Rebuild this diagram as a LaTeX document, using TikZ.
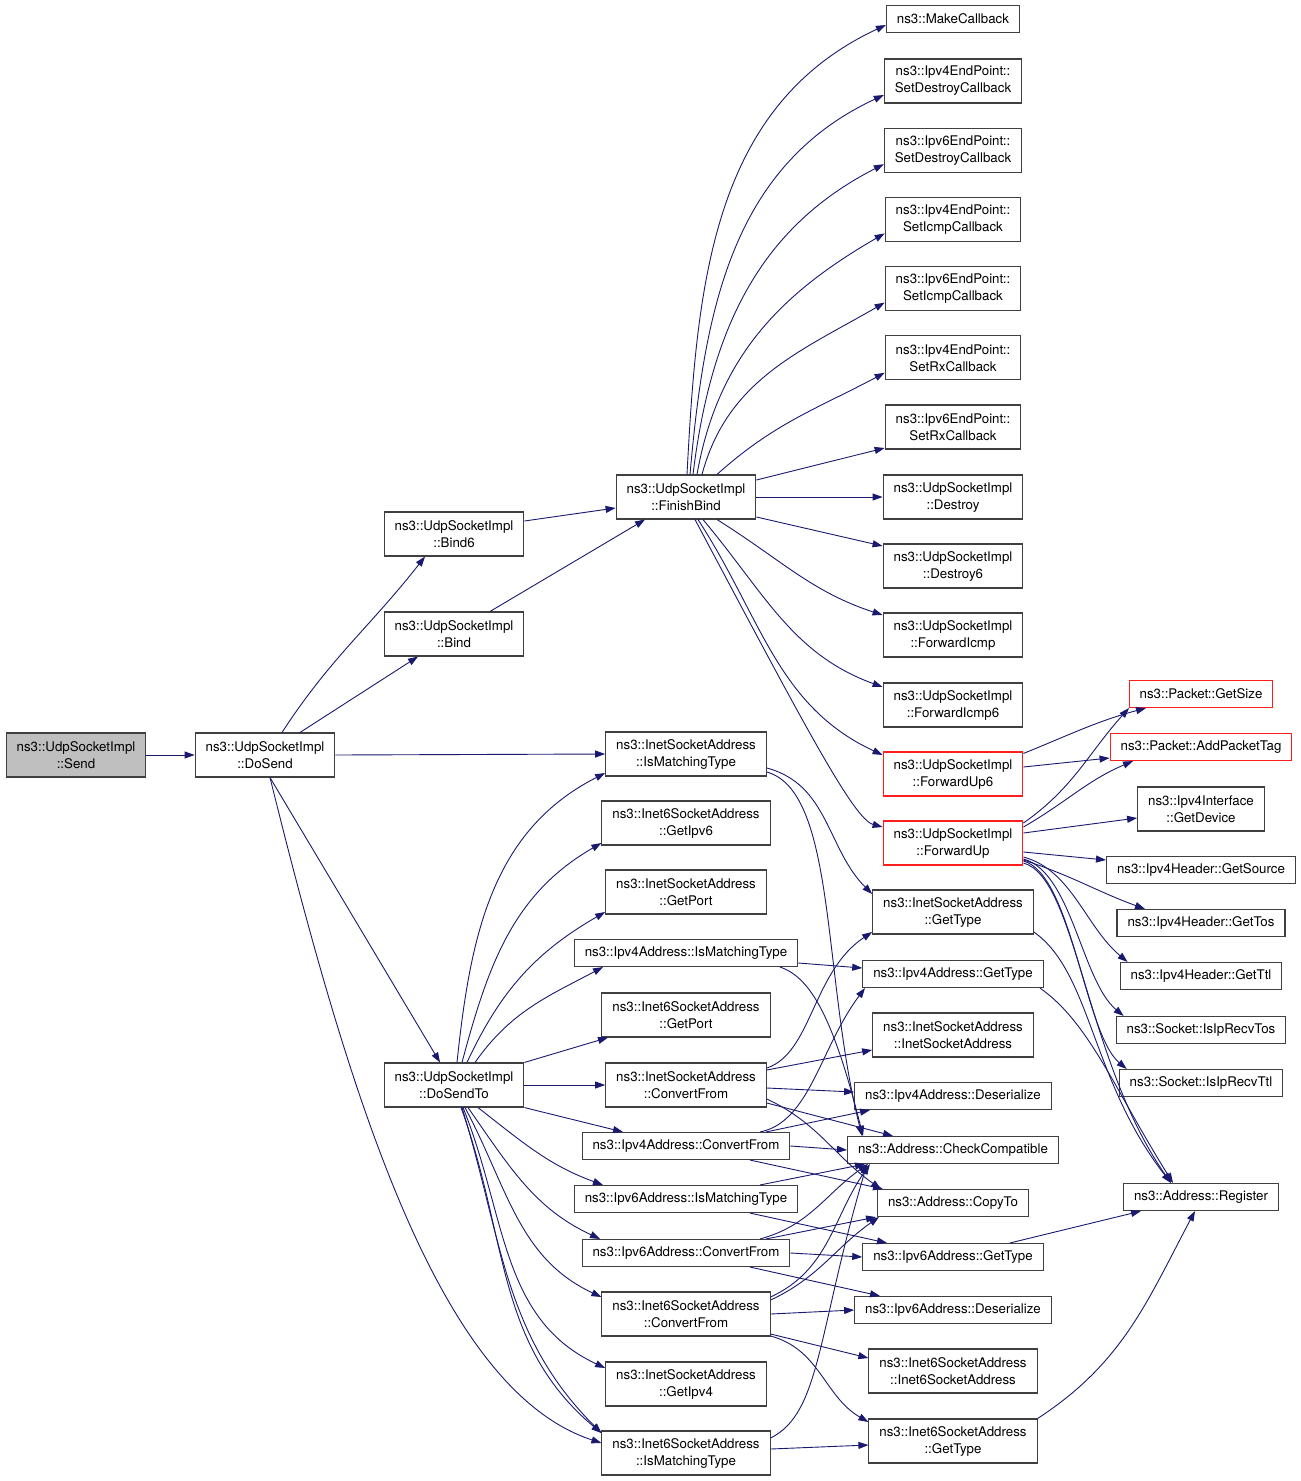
\documentclass[tikz,border=0pt]{standalone}
\usepackage{fontspec}
\setmainfont{TeX Gyre Heros}
\usetikzlibrary{arrows.meta}
\definecolor{edgeblue}{RGB}{25,25,112}
\definecolor{boxgray}{RGB}{64,64,64}
\definecolor{boxred}{RGB}{255,30,30}
\definecolor{rootgray}{RGB}{191,191,191}
\begin{document}
\begin{tikzpicture}[x=1pt,y=1pt,
    fn/.style={draw=boxgray, line width=1.1pt, fill=white, align=center,
        inner xsep=10.5pt, inner ysep=0pt, minimum height=44pt,
        font={\fontsize{13.3}{17}\selectfont}},
    fnline/.style={fn, minimum height=27pt},
    fnroot/.style={fn, fill=rootgray},
    fnred/.style={fn, draw=boxred},
    fnredline/.style={fnline, draw=boxred},
    call/.style={draw=edgeblue, line width=0.9pt, -{Triangle[length=10pt,width=7pt]}}]
    \useasboundingbox (0,0) rectangle (1301,-1481);

    % callers
    \node[fnroot] (send) at (76,-755) {ns3::UdpSocketImpl\\::Send};
    \node[fn] (dosend) at (265,-755) {ns3::UdpSocketImpl\\::DoSend};
    \node[fn] (bind6) at (454,-534) {ns3::UdpSocketImpl\\::Bind6};
    \node[fn] (bind) at (454,-634) {ns3::UdpSocketImpl\\::Bind};
    \node[fn] (finishbind) at (686,-497) {ns3::UdpSocketImpl\\::FinishBind};
    \node[fn] (dosendto) at (454,-1085) {ns3::UdpSocketImpl\\::DoSendTo};

    % FinishBind callees
    \node[fnline] (makecb) at (953,-19) {ns3::MakeCallback};
    \foreach \v/\cb [count=\i] in {4/Destroy,6/Destroy,4/Icmp,6/Icmp,4/Rx,6/Rx}{
        \node[fn] (ep\i) at (953,{-81-69.2*(\i-1)}) {ns3::Ipv\v EndPoint::\\Set\cb Callback};
    }
    \node[fn] (destroy) at (953,-497) {ns3::UdpSocketImpl\\::Destroy};
    \node[fn] (destroy6) at (953,-566) {ns3::UdpSocketImpl\\::Destroy6};
    \node[fn] (fwdicmp) at (953,-635) {ns3::UdpSocketImpl\\::ForwardIcmp};
    \node[fn] (fwdicmp6) at (953,-705) {ns3::UdpSocketImpl\\::ForwardIcmp6};
    \node[fnred] (fwdup6) at (953,-774) {ns3::UdpSocketImpl\\::ForwardUp6};
    \node[fnred] (fwdup) at (953,-843) {ns3::UdpSocketImpl\\::ForwardUp};

    % ForwardUp callees
    \node[fnredline] (getsize) at (1201,-694) {ns3::Packet::GetSize};
    \node[fnredline] (addtag) at (1201,-747) {ns3::Packet::AddPacketTag};
    \node[fn] (getdevice) at (1201,-809) {ns3::Ipv4Interface\\::GetDevice};
    \node[fnline] (getsource) at (1201,-870) {ns3::Ipv4Header::GetSource};
    \node[fnline] (gettos) at (1201,-923) {ns3::Ipv4Header::GetTos};
    \node[fnline] (getttl) at (1201,-976) {ns3::Ipv4Header::GetTtl};
    \node[fnline] (recvtos) at (1201,-1030) {ns3::Socket::IsIpRecvTos};
    \node[fnline] (recvttl) at (1201,-1083) {ns3::Socket::IsIpRecvTtl};
    \node[fnline] (register) at (1201,-1197) {ns3::Address::Register};

    % DoSendTo callees
    \node[fn] (inetmatch) at (686,-754) {ns3::InetSocketAddress\\::IsMatchingType};
    \node[fn] (inet6getipv6) at (686,-823) {ns3::Inet6SocketAddress\\::GetIpv6};
    \node[fn] (inetgetport) at (686,-892) {ns3::InetSocketAddress\\::GetPort};
    \node[fnline] (ipv4match) at (686,-953) {ns3::Ipv4Address::IsMatchingType};
    \node[fn] (inet6getport) at (686,-1015) {ns3::Inet6SocketAddress\\::GetPort};
    \node[fn] (inetconvert) at (686,-1085) {ns3::InetSocketAddress\\::ConvertFrom};
    \node[fnline] (ipv4convert) at (686,-1146) {ns3::Ipv4Address::ConvertFrom};
    \node[fnline] (ipv6match) at (686,-1199) {ns3::Ipv6Address::IsMatchingType};
    \node[fnline] (ipv6convert) at (686,-1253) {ns3::Ipv6Address::ConvertFrom};
    \node[fn] (inet6convert) at (686,-1314) {ns3::Inet6SocketAddress\\::ConvertFrom};
    \node[fn] (inetgetipv4) at (686,-1384) {ns3::InetSocketAddress\\::GetIpv4};
    \node[fn] (inet6match) at (686,-1453) {ns3::Inet6SocketAddress\\::IsMatchingType};

    % address helpers
    \node[fn] (inetgettype) at (953,-912) {ns3::InetSocketAddress\\::GetType};
    \node[fnline] (ipv4gettype) at (953,-974) {ns3::Ipv4Address::GetType};
    \node[fn] (inetctor) at (953,-1035) {ns3::InetSocketAddress\\::InetSocketAddress};
    \node[fnline] (ipv4deser) at (953,-1096) {ns3::Ipv4Address::Deserialize};
    \node[fnline] (checkcompat) at (953,-1150) {ns3::Address::CheckCompatible};
    \node[fnline] (copyto) at (953,-1203) {ns3::Address::CopyTo};
    \node[fnline] (ipv6gettype) at (953,-1257) {ns3::Ipv6Address::GetType};
    \node[fnline] (ipv6deser) at (953,-1310) {ns3::Ipv6Address::Deserialize};
    \node[fn] (inet6ctor) at (953,-1371) {ns3::Inet6SocketAddress\\::Inet6SocketAddress};
    \node[fn] (inet6gettype) at (953,-1441) {ns3::Inet6SocketAddress\\::GetType};

    % Send and DoSend
    \draw[call] (send) -- (dosend);
    \draw[call] ([xshift=17pt]dosend.north) to[out=57,in=232] ([xshift=-29pt]bind6.south);
    \draw[call] ([xshift=35pt]dosend.north) -- ([xshift=-36pt]bind.south);
    \draw[call] (dosend.east) -- (inetmatch.west);
    \draw[call] ([xshift=5pt]dosend.south) -- ([xshift=-14pt]dosendto.north);
    \draw[call] ([xshift=5pt]dosend.south) .. controls +(80,-323) and +(-162,53) .. ([yshift=10pt]inet6match.west);
    \draw[call] ([yshift=13pt]bind6.east) -- ([yshift=-11pt]finishbind.west);
    \draw[call] ([xshift=36pt]bind.north) -- ([xshift=-41pt]finishbind.south);

    % FinishBind
    \draw[call] ([xshift=1pt]finishbind.north) to[out=87,in=205] ([yshift=-6pt]makecb.west);
    \foreach \i/\s/\o/\n in {1/4/85/205,2/7/83/207,3/11/80/210,4/16/75/210}{
        \draw[call] ([xshift=\s pt]finishbind.north) to[out=\o,in=\n] ([yshift=-14pt]ep\i.west);
    }
    \draw[call] ([xshift=31pt]finishbind.north) to[out=42,in=208] ([yshift=-15pt]ep5.west);
    \draw[call] ([yshift=17pt]finishbind.east) -- ([yshift=-21pt]ep6.west);
    \draw[call] (finishbind.east) -- (destroy.west);
    \draw[call] ([yshift=-20pt]finishbind.east) -- ([yshift=20pt]destroy6.west);
    \draw[call] ([xshift=31pt]finishbind.south) to[out=-32,in=162] ([yshift=20pt]fwdicmp.west);
    \draw[call] ([xshift=17pt]finishbind.south) to[out=-50,in=160] ([yshift=18pt]fwdicmp6.west);
    \draw[call] ([xshift=12pt]finishbind.south) to[out=-57,in=155] ([yshift=19pt]fwdup6.west);
    \draw[call] ([xshift=9pt]finishbind.south) to[out=-62,in=165,out distance=230pt,in distance=30pt] ([yshift=16pt]fwdup.west);

    % ForwardUp6 and ForwardUp
    \draw[call] ([yshift=-2pt]fwdup6.north east) to[out=22,in=195] ([xshift=-55pt]getsize.south);
    \draw[call] ([yshift=7pt]fwdup6.east) -- ([yshift=-11pt]addtag.west);
    \draw[call] ([yshift=20pt]fwdup.east) to[out=35,in=228] ([xshift=-72pt]getsize.south);
    \draw[call] ([yshift=16pt]fwdup.east) to[out=30,in=203] ([xshift=-68pt]addtag.south);
    \draw[call] ([yshift=10pt]fwdup.east) -- ([yshift=-9pt]getdevice.west);
    \draw[call] ([yshift=-9pt]fwdup.east) -- ([yshift=10pt]getsource.west);
    \draw[call] ([yshift=-17pt]fwdup.east) to[out=-18,in=160] ([xshift=-56pt]gettos.north);
    \foreach \t/\s in {getttl/-14,recvtos/-16,recvttl/-18}{
        \draw[call] ([yshift=\s pt]fwdup.east) to[out=-15,in=140,out distance=50pt,in distance=55pt] ([xshift=8pt]\t.north west);
    }
    \draw[call] ([yshift=-20pt]fwdup.east) to[out=-15,in=125,out distance=55pt,in distance=150pt] ([xshift=-30pt]register.north);

    % DoSendTo
    \foreach \t/\s/\o/\n/\e in {inetmatch/3/84/207/-19,inet6getipv6/8/75/210/-20,inetgetport/13/65/210/-20}{
        \draw[call] ([xshift=\s pt]dosendto.north) to[out=\o,in=\n] ([yshift=\e pt]\t.west);
    }
    \draw[call] ([xshift=21pt]dosendto.north) to[out=55,in=208] ([xshift=-83pt]ipv4match.south);
    \draw[call] (dosendto.north east) -- ([xshift=-78pt]inet6getport.south);
    \draw[call] (dosendto.east) -- (inetconvert.west);
    \draw[call] (dosendto.south east) -- ([xshift=-63pt]ipv4convert.north);
    \draw[call] ([xshift=24pt]dosendto.south) to[out=-38,in=160] ([xshift=-83pt]ipv6match.north);
    \draw[call] ([xshift=14pt]dosendto.south) to[out=-55,in=155] ([xshift=-86pt]ipv6convert.north);
    \draw[call] ([xshift=11pt]dosendto.south) to[out=-62,in=155] ([yshift=17pt]inet6convert.west);
    \draw[call] ([xshift=9pt]dosendto.south) to[out=-68,in=155] ([yshift=16pt]inetgetipv4.west);
    \draw[call] ([xshift=7pt]dosendto.south) to[out=-70,in=140] ([yshift=20pt]inet6match.west);
    \draw[call] ([xshift=8pt]dosendto.south) to[out=-73,in=135] ([yshift=20pt]inet6match.west);

    % address conversions
    \draw[call] ([yshift=-14pt]inetmatch.east) to[out=-15,in=135] ([yshift=18pt]inetgettype.west);
    \draw[call] ([yshift=-18pt]inetmatch.east) .. controls +(70,-20) and +(-40,160) .. ([xshift=-91pt]checkcompat.north);
    \draw[call] ([yshift=-10pt]ipv4match.east) -- ([yshift=6pt]ipv4gettype.west);
    \draw[call] ([xshift=94pt]ipv4match.south) .. controls +(30,-10) and +(-30,120) .. ([xshift=-90pt]checkcompat.north);
    \draw[call] ([yshift=17pt]inetconvert.east) .. controls +(45,15) and +(-60,-40) .. ([yshift=-20pt]inetgettype.west);
    \draw[call] ([yshift=15pt]inetconvert.east) -- ([yshift=-15pt]inetctor.west);
    \draw[call] ([yshift=-3pt]inetconvert.east) -- ([yshift=4pt]ipv4deser.west);
    \draw[call] ([yshift=-18pt]inetconvert.east) -- ([xshift=-60pt]checkcompat.north);
    \draw[call] ([yshift=-14pt]inetconvert.east) to[out=-25,in=145] ([xshift=-72pt]copyto.north);
    \draw[call] ([xshift=74pt]ipv4convert.north) .. controls +(50,10) and +(-45,-60) .. ([xshift=-88pt]ipv4gettype.south);
    \draw[call] ([xshift=80pt]ipv4convert.north) -- ([xshift=-83pt]ipv4deser.south);
    \draw[call] (ipv4convert.east) -- (checkcompat.west);
    \draw[call] ([xshift=64pt]ipv4convert.south) -- ([xshift=-70pt]copyto.north);
    \draw[call] ([xshift=74pt]ipv6match.north) -- ([xshift=-88pt]checkcompat.south);
    \draw[call] ([xshift=64pt]ipv6match.south) -- ([xshift=-66pt]ipv6gettype.north);
    \draw[call] ([xshift=74pt]ipv6convert.north) to[out=15,in=215] ([xshift=-85pt]checkcompat.south);
    \draw[call] ([xshift=80pt]ipv6convert.north) -- ([xshift=-77pt]copyto.south);
    \draw[call] (ipv6convert.east) -- (ipv6gettype.west);
    \draw[call] ([xshift=64pt]ipv6convert.south) -- ([xshift=-73pt]ipv6deser.north);
    \draw[call] ([yshift=17pt]inet6convert.east) to[out=25,in=235] ([xshift=-83pt]checkcompat.south);
    \draw[call] ([yshift=14pt]inet6convert.east) to[out=25,in=215] ([xshift=-74pt]copyto.south);
    \draw[call] (inet6convert.east) -- (ipv6deser.west);
    \draw[call] ([yshift=-20pt]inet6convert.east) -- ([yshift=13pt]inet6ctor.west);
    \draw[call] ([yshift=-22pt]inet6convert.east) to[out=-15,in=150] ([yshift=19pt]inet6gettype.west);
    \draw[call] ([yshift=15pt]inet6match.east) .. controls +(50,25) and +(-50,-170) .. ([xshift=-86pt]checkcompat.south);
    \draw[call] ([yshift=4pt]inet6match.east) -- ([yshift=-4pt]inet6gettype.west);

    % Register
    \draw[call] ([yshift=-20pt]inetgettype.east) to[out=-35,in=128,out distance=70pt,in distance=130pt] ([xshift=-30pt]register.north);
    \draw[call] ([xshift=87pt]ipv4gettype.south) to[out=-35,in=122,out distance=60pt,in distance=110pt] ([xshift=-28pt]register.north);
    \draw[call] ([xshift=57pt]ipv6gettype.north) -- ([xshift=-60pt]register.south);
    \draw[call] (inet6gettype.north east) to[out=33,in=242] ([xshift=-6pt]register.south);
\end{tikzpicture}
\end{document}
